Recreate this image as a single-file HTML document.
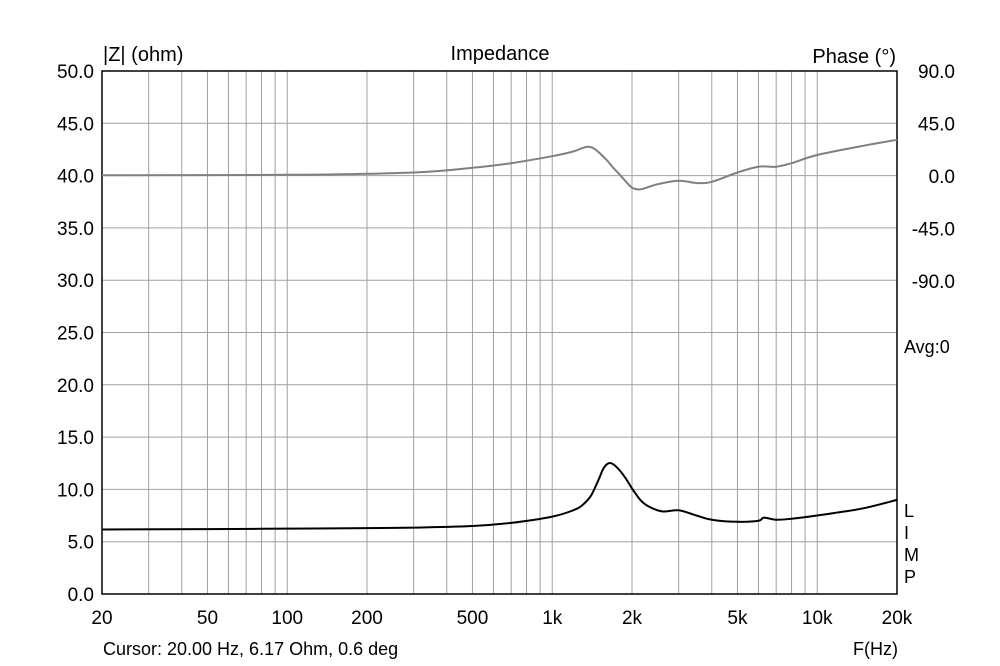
<!DOCTYPE html>
<html><head><meta charset="utf-8"><style>
body{margin:0;background:#fff}
svg{display:block;font-family:"Liberation Sans",Arial,sans-serif}
</style></head><body>
<svg id="c" width="1000" height="666" viewBox="0 0 1000 666">
<g id="grid"></g><g id="labels"></g><g id="series"></g>
<text x="103" y="61" font-size="20">|Z| (ohm)</text>
<text x="500" y="60" font-size="20" text-anchor="middle">Impedance</text>
<text x="896" y="63" font-size="20" text-anchor="end">Phase (°)</text>
<text x="904" y="353" font-size="18">Avg:0</text>
<text x="904" y="517" font-size="18">L</text>
<text x="904" y="539" font-size="18">I</text>
<text x="904" y="561" font-size="18">M</text>
<text x="904" y="583" font-size="18">P</text>
<text x="103" y="655" font-size="18">Cursor: 20.00 Hz, 6.17 Ohm, 0.6 deg</text>
<text x="898" y="655" font-size="18" text-anchor="end">F(Hz)</text>
</svg>
<script>
const impFreq=[20,50,100,200,300,500,700,1000,1200,1300,1400,1500,1560,1630,1700,1800,1900,2000,2150,2300,2600,3000,3500,4000,5000,6000,6300,7000,8000,10000,12000,15000,20000];
const impVals=[6.17,6.2,6.25,6.3,6.35,6.5,6.8,7.4,8.0,8.5,9.4,11.0,12.0,12.5,12.4,11.8,11.0,10.1,9.0,8.4,7.9,8.0,7.5,7.1,6.9,7.0,7.3,7.1,7.2,7.5,7.8,8.2,9.0];
const phFreq=[20,100,300,500,700,1000,1200,1300,1370,1450,1600,1700,1800,1900,2000,2100,2200,2500,3000,3500,4000,5000,6000,7000,8000,10000,15000,20000];
const phVals=[0.6,1,3,7,11,17,21,24,25,23,14,7,1,-5,-10,-11.5,-11,-7,-4,-6,-5,3,8,8,11,18,26,31];
const zTicks=["0.0","5.0","10.0","15.0","20.0","25.0","30.0","35.0","40.0","45.0","50.0"];
const phTicks=["90.0","45.0","0.0","-45.0","-90.0"];
const phTickVals=[90,45,0,-45,-90];
const xLabelVals=[20,50,100,200,500,1000,2000,5000,10000,20000];
const xLabelText=["20","50","100","200","500","1k","2k","5k","10k","20k"];
const L=102,R=897,T=71,B=594;
const x=f=>L+(R-L)*Math.log10(f/20)/3;
const y=z=>B-(B-T)*z/50;
const yp=p=>176-p*(105/90);
const NS="http://www.w3.org/2000/svg";
function mk(tag,attrs,parent){const e=document.createElementNS(NS,tag);for(const k in attrs)e.setAttribute(k,attrs[k]);parent.appendChild(e);return e;}
const g=document.getElementById('grid'),lb=document.getElementById('labels'),s=document.getElementById('series');
for(let d=10;d<=10000;d*=10){for(let m=1;m<10;m++){const f=d*m;if(f<=20||f>=20000)continue;
 const l=mk('line',{x1:x(f),x2:x(f),y1:T,y2:B,stroke:'#a0a0a0','stroke-width':1},g);
 
 }}
zTicks.forEach((t,i)=>{const v=i*5;
 if(v>0&&v<50){const l=mk('line',{x1:L,x2:R,y1:y(v),y2:y(v),stroke:'#a0a0a0','stroke-width':1},g);
 
 }
 const tx=mk('text',{x:94,y:y(v)+7,'font-size':19,'text-anchor':'end'},lb);tx.textContent=t;
 
 });
phTicks.forEach((t,i)=>{const tx=mk('text',{x:955,y:yp(phTickVals[i])+7,'font-size':19,'text-anchor':'end'},lb);tx.textContent=t;
 
 });
xLabelVals.forEach((f,i)=>{const tx=mk('text',{x:x(f),y:624,'font-size':19,'text-anchor':'middle'},lb);tx.textContent=xLabelText[i];
 
 });
const fr=mk('rect',{x:L,y:T,width:R-L,height:B-T,fill:'none',stroke:'#000','stroke-width':1.5},g);


function path(fs,vs,fy){
 const P=fs.map((f,i)=>[x(f),fy(vs[i])]);
 let d='M'+P[0][0].toFixed(1)+','+P[0][1].toFixed(1);
 for(let i=0;i<P.length-1;i++){
  const p0=P[Math.max(0,i-1)],p1=P[i],p2=P[i+1],p3=P[Math.min(P.length-1,i+2)];
  const c1=[p1[0]+(p2[0]-p0[0])/6,p1[1]+(p2[1]-p0[1])/6];
  const c2=[p2[0]-(p3[0]-p1[0])/6,p2[1]-(p3[1]-p1[1])/6];
  d+=' C'+c1[0].toFixed(1)+','+c1[1].toFixed(1)+' '+c2[0].toFixed(1)+','+c2[1].toFixed(1)+' '+p2[0].toFixed(1)+','+p2[1].toFixed(1);
 }
 return d;}
const p1=mk('path',{d:path(phFreq,phVals,yp),fill:'none',stroke:'#808080','stroke-width':2,'stroke-linejoin':'round'},s);


const p2=mk('path',{d:path(impFreq,impVals,y),fill:'none',stroke:'#000','stroke-width':2,'stroke-linejoin':'round'},s);


</script>
</body></html>
